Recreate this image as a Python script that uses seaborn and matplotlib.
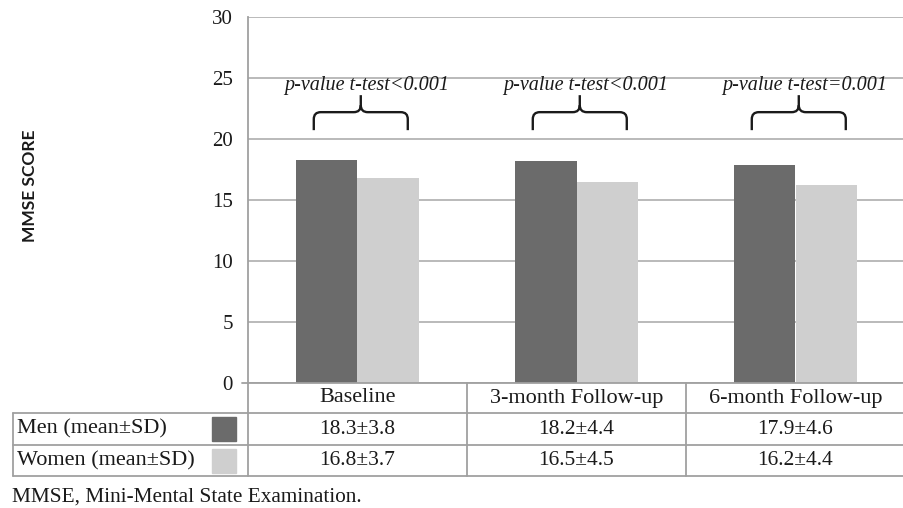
import numpy as np
import pandas as pd
import seaborn as sns
import matplotlib.pyplot as plt
from matplotlib.path import Path
from matplotlib.patches import PathPatch, Rectangle

# ---- data ----
visits = ["Baseline", "3-month Follow-up", "6-month Follow-up"]
men_mean = [18.3, 18.2, 17.9]
men_sd = [3.8, 4.4, 4.6]
women_mean = [16.8, 16.5, 16.2]
women_sd = [3.7, 4.5, 4.4]
p_labels = ["p-value t-test<0.001", "p-value t-test<0.001", "p-value t-test=0.001"]
groups = ["Men", "Women"]
colors = {"Men": "#6b6b6b", "Women": "#cfcfcf"}

sns.set_style("white")
plt.rcParams["font.family"] = ["Liberation Serif", "DejaVu Serif"]

df = pd.DataFrame({
    "visit": visits * 2,
    "group": ["Men"] * 3 + ["Women"] * 3,
    "score": men_mean + women_mean,
})

W, H = 904, 508
fig = plt.figure(figsize=(W / 100, H / 100), dpi=100)
ax = fig.add_axes([248 / W, 125 / H, 657 / W, 366 / H])

grid_c = "#b4b4b4"
line_c = "#a0a0a0"
txt_c = "#1a1a1a"

sns.barplot(data=df, x="visit", y="score", hue="group", order=visits,
            hue_order=groups, palette=colors, width=0.56, saturation=1,
            legend=False, ax=ax, zorder=3, linewidth=0)

ax.set_xlim(-0.5, 2.5)
ax.set_ylim(0, 30)
ax.set_yticks(np.arange(0, 31, 5))
ax.yaxis.grid(True, color=grid_c, lw=1.3, zorder=0)
ax.set_axisbelow(True)
for s in ["top", "right", "bottom"]:
    ax.spines[s].set_visible(False)
ax.spines["left"].set_color(line_c)
ax.spines["left"].set_linewidth(1.3)
ax.tick_params(axis="y", length=6, color=line_c, width=1.3, labelsize=15,
               pad=5, labelcolor=txt_c)
ax.set_xticks([])
ax.set_xlabel("")
ax.set_ylabel("")

fig.text(30 / W, 1 - 186 / H, "MMSE SCORE", rotation=90, ha="center", va="center",
         family="Lato", weight="bold", fontsize=12.5, color=txt_c)

# ---- braces with p-value labels ----
sx = 1 / 219.0          # data units per pixel (x)
sy = 30 / 366.0         # data units per pixel (y)


def brace(cx, yb, half=47, drop=18, r=7, stem=17):
    pts = [(-half, -drop), (-half, -r), (-half, 0), (-half + r, 0),
           (-r, 0), (0, 0), (0, r), (0, stem),
           (0, r), (0, 0), (r, 0),
           (half - r, 0), (half, 0), (half, -r), (half, -drop)]
    codes = [Path.MOVETO, Path.LINETO, Path.CURVE3, Path.CURVE3,
             Path.LINETO, Path.CURVE3, Path.CURVE3, Path.LINETO,
             Path.MOVETO, Path.CURVE3, Path.CURVE3,
             Path.LINETO, Path.CURVE3, Path.CURVE3, Path.LINETO]
    verts = [(cx + px * sx, yb + py * sy) for px, py in pts]
    ax.add_patch(PathPatch(Path(verts, codes), fill=False, lw=1.7,
                           color=txt_c, zorder=4))


for i, lab in enumerate(p_labels):
    brace(i + 0.015, 22.2)
    ax.text(i + 0.04, 24.4, lab, ha="center", va="center", style="italic",
            fontsize=14.5, color=txt_c)

# ---- table under the plot ----
row_y = [0.0, -30 / 366, -62 / 366, -93 / 366]   # axes fractions of row borders
left_x = -0.5 - 235 / 219.0
bt = ax.get_xaxis_transform()
kw = dict(transform=bt, clip_on=False, color=line_c, lw=1.3, zorder=5)

ax.plot([-0.5 - 6 * sx, 2.5], [0, 0], **kw)
for y in row_y[1:]:
    ax.plot([left_x, 2.5], [y, y], **kw)
ax.plot([left_x, left_x], [row_y[1], row_y[3]], **kw)
for xb in [-0.5, 0.5, 1.5]:
    ax.plot([xb, xb], [0, row_y[3]], **kw)

tx = dict(transform=bt, clip_on=False, ha="center", va="center", color=txt_c)
for i, v in enumerate(visits):
    ax.text(i, (row_y[0] + row_y[1]) / 2, v, fontsize=16, **tx)
    ax.text(i, (row_y[1] + row_y[2]) / 2, f"{men_mean[i]}±{men_sd[i]}",
            fontsize=15.5, **tx)
    ax.text(i, (row_y[2] + row_y[3]) / 2, f"{women_mean[i]}±{women_sd[i]}",
            fontsize=15.5, **tx)

row_names = ["Men (mean±SD)", "Women (mean±SD)"]
for k, g in enumerate(groups):
    yc = (row_y[k + 1] + row_y[k + 2]) / 2
    ax.text(left_x + 4 * sx, yc, row_names[k], transform=bt, clip_on=False,
            ha="left", va="center", fontsize=16, color=txt_c)
    ax.add_patch(Rectangle((-0.5 - 36 * sx, yc - 12 / 366), 24 * sx, 24 / 366,
                           transform=bt, clip_on=False, color=colors[g], zorder=5))

fig.text(12 / W, 1 - 497 / H, "MMSE, Mini-Mental State Examination.",
         ha="left", va="center", fontsize=15.3, color=txt_c)

fig.savefig("out.png", dpi=100)
